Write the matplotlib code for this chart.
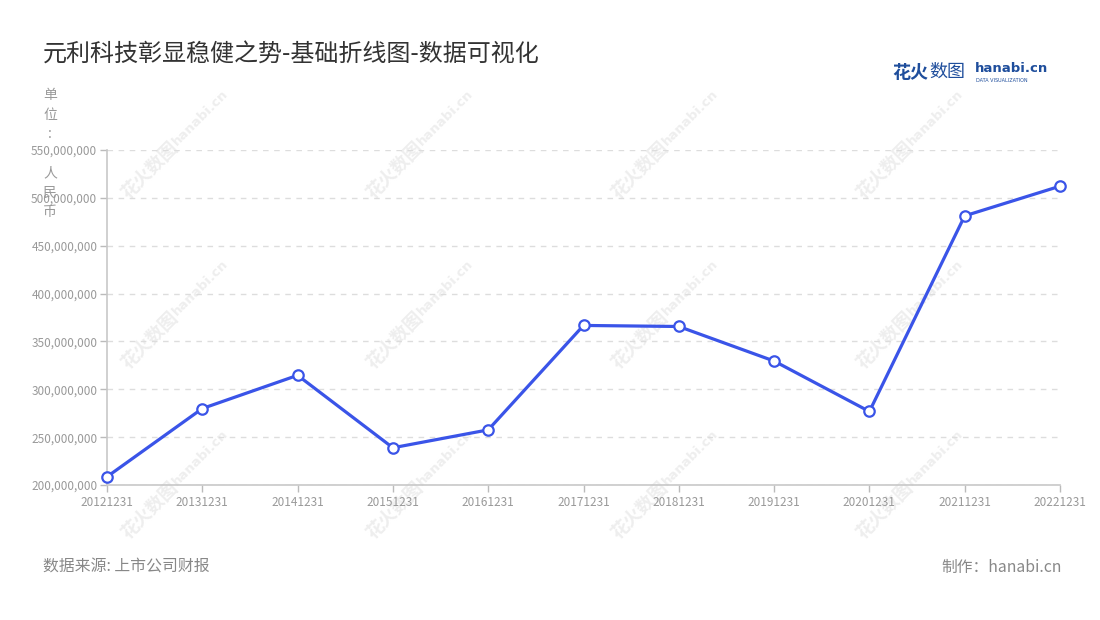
import matplotlib
matplotlib.use("Agg")
import matplotlib.pyplot as plt
from matplotlib.ticker import FuncFormatter

plt.rcParams['font.family'] = ['Noto Sans CJK SC', 'DejaVu Sans']

# data
dates = ['20121231', '20131231', '20141231', '20151231', '20161231', '20171231',
         '20181231', '20191231', '20201231', '20211231', '20221231']
revenue = [208.6e6, 279.9e6, 314.6e6, 238.9e6, 257.6e6, 366.7e6,
           365.6e6, 329.5e6, 276.8e6, 481.2e6, 512.2e6]
y_ticks = [200e6, 250e6, 300e6, 350e6, 400e6, 450e6, 500e6, 550e6]

title = '元利科技彰显稳健之势-基础折线图-数据可视化'
unit_label = '单\n位\n:\n\n人\n民\n币'
source = '数据来源: 上市公司财报'
credit = '制作：hanabi.cn'

line_color = '#3a54e8'
grey = '#999999'

fig = plt.figure(figsize=(11, 6.2), dpi=100)

# background layer for watermark tiles
bg = fig.add_axes([0, 0, 1, 1], zorder=-1)
bg.set_xlim(0, 1100)
bg.set_ylim(620, 0)
bg.axis('off')
for wx in [150, 395, 640, 885]:
    for wy in [170, 340, 510]:
        bg.text(wx, wy, '花火数图', rotation=45, fontsize=13, fontweight='bold',
                color='#eeeeee', ha='center', va='center')
        bg.text(wx + 50, wy - 52, 'hanabi.cn', rotation=45, fontsize=9.5, fontweight='bold',
                color='#eeeeee', ha='center', va='center', family='DejaVu Sans')

ax = fig.add_axes([107/1100, 1 - 485/620, (1060 - 107)/1100, (485 - 150)/620])

x = list(range(len(dates)))
ax.plot(x, revenue, color=line_color, lw=2.3, marker='o', markersize=7.5,
        markerfacecolor='white', markeredgecolor=line_color, markeredgewidth=1.6,
        zorder=3, clip_on=False)

ax.set_xlim(0, len(dates) - 1)
ax.set_ylim(y_ticks[0], y_ticks[-1])
ax.set_xticks(x)
ax.set_xticklabels(dates)
ax.set_yticks(y_ticks)
ax.yaxis.set_major_formatter(FuncFormatter(lambda v, p: f'{int(v):,}'))
ax.tick_params(axis='both', colors='#bbbbbb', labelcolor=grey, labelsize=8.5, length=5, width=1)
ax.tick_params(axis='x', pad=3)
ax.tick_params(axis='y', pad=2)

ax.grid(axis='y', linestyle=(0, (4, 4)), color='#dddddd', lw=1)
ax.set_axisbelow(True)
for s in ['top', 'right']:
    ax.spines[s].set_visible(False)
for s in ['left', 'bottom']:
    ax.spines[s].set_color('#c8c8c8')
    ax.spines[s].set_linewidth(1.2)
ax.patch.set_alpha(0)

fig.text(43/1100, 1 - 55/620, title, fontsize=17.3, color='#333333', ha='left', va='center')
fig.text(50/1100, 1 - 88/620, unit_label, fontsize=10, color=grey, ha='center', va='top',
         linespacing=1.5)
fig.text(43/1100, 1 - 567/620, source, fontsize=11.4, color='#888888', ha='left', va='center')
fig.text(1062/1100, 1 - 567/620, credit, fontsize=11.3, color='#888888', ha='right', va='center')

# logo
fig.text(892/1100, 1 - 72/620, '花火', fontsize=13, fontweight='bold', color='#1f4e9c',
         ha='left', va='center')
fig.text(929/1100, 1 - 72/620, '数图', fontsize=13, color='#1f4e9c', ha='left', va='center')
fig.text(975/1100, 1 - 69/620, 'hanabi.cn', fontsize=9.5, fontweight='bold', color='#1f4e9c',
         ha='left', va='center', family='DejaVu Sans')
fig.text(976/1100, 1 - 80/620, 'DATA VISUALIZATION', fontsize=3.5, color='#1f4e9c',
         ha='left', va='center', family='DejaVu Sans')

fig.savefig('out.png', dpi=100)
